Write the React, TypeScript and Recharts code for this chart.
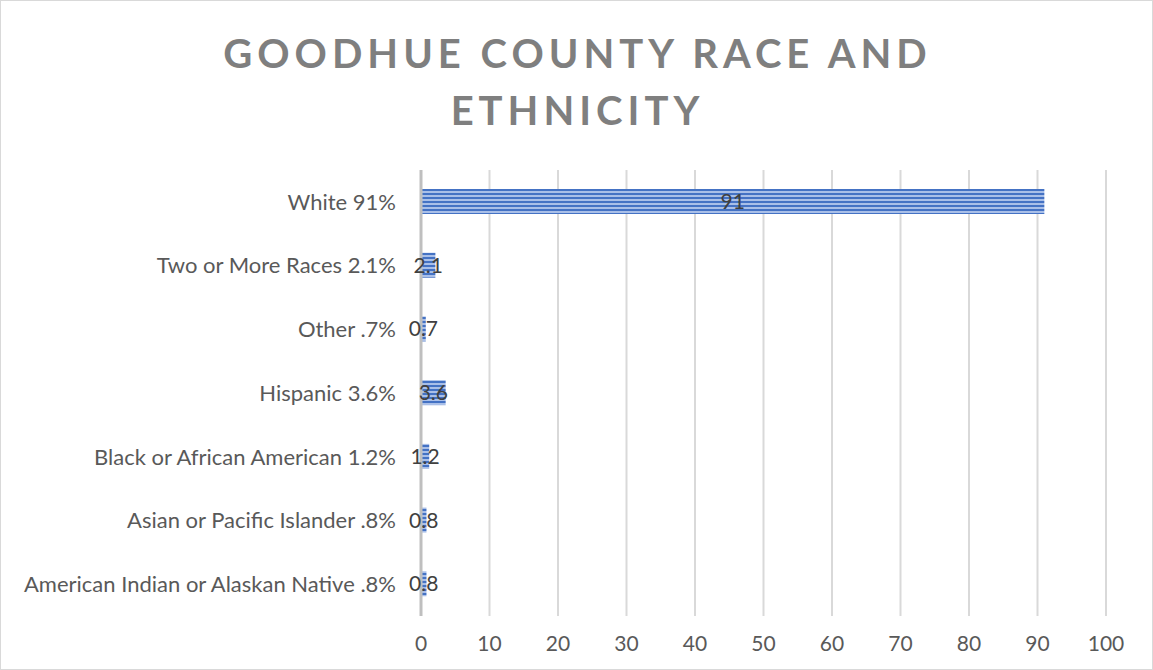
import React from 'react'
import { Bar, BarChart, CartesianGrid, LabelList, XAxis, YAxis } from 'recharts'

const categories = [
	'White 91%',
	'Two or More Races 2.1%',
	'Other .7%',
	'Hispanic 3.6%',
	'Black or African American 1.2%',
	'Asian or Pacific Islander .8%',
	'American Indian or Alaskan Native .8%',
]
const values = [91, 2.1, 0.7, 3.6, 1.2, 0.8, 0.8]
const xTicks = [0, 10, 20, 30, 40, 50, 60, 70, 80, 90, 100]

const data = categories.map((name, i) => ({ name, value: values[i] }))

const font = "Lato, 'Open Sans', sans-serif"

export default function App() {
	return (
		<div
			style={{
				position: 'fixed',
				left: 0,
				top: 0,
				width: 1153,
				height: 670,
				background: '#fff',
				boxSizing: 'border-box',
				border: '1px solid #d9d9d9',
				fontFamily: font,
			}}
		>
			<svg width={0} height={0} style={{ position: 'absolute' }}>
				<defs>
					<pattern id='stripes' width={8} height={4} patternUnits='userSpaceOnUse'>
						<rect width={8} height={4} fill='#a9bfe8' />
						<rect width={8} height={2} fill='#4472c4' />
					</pattern>
				</defs>
			</svg>
			<div
				style={{
					position: 'absolute',
					left: 0,
					top: 24,
					width: 1153,
					textAlign: 'center',
					color: '#7f7f7f',
					fontSize: 40,
					fontWeight: 700,
					letterSpacing: 5,
					lineHeight: '57px',
				}}
			>
				GOODHUE COUNTY RACE AND
				<br />
				ETHNICITY
			</div>
			<BarChart
				width={1151}
				height={668}
				data={data}
				layout='vertical'
				margin={{ top: 169, right: 46, bottom: 0, left: 0 }}
				style={{ position: 'absolute', left: 0, top: 0 }}
			>
				<CartesianGrid horizontal={false} stroke='#d9d9d9' strokeWidth={2} />
				<XAxis
					type='number'
					domain={[0, 100]}
					ticks={xTicks}
					axisLine={false}
					tickLine={false}
					tickMargin={14}
					height={53}
					tick={{ fontSize: 21, fill: '#595959', fontFamily: font }}
				/>
				<YAxis
					type='category'
					dataKey='name'
					width={420}
					axisLine={{ stroke: '#bfbfbf', strokeWidth: 3 }}
					tickLine={false}
					tickSize={0}
					tickMargin={25}
					interval={0}
					tick={{ fontSize: 22, fill: '#595959', fontFamily: font }}
				/>
				<Bar
					dataKey='value'
					fill='url(#stripes)'
					barSize={25}
					isAnimationActive={false}
				>
					<LabelList
						dataKey='value'
						position='center'
						fill='#404040'
						fontSize={21}
						fontFamily={font}
					/>
				</Bar>
			</BarChart>
		</div>
	)
}
